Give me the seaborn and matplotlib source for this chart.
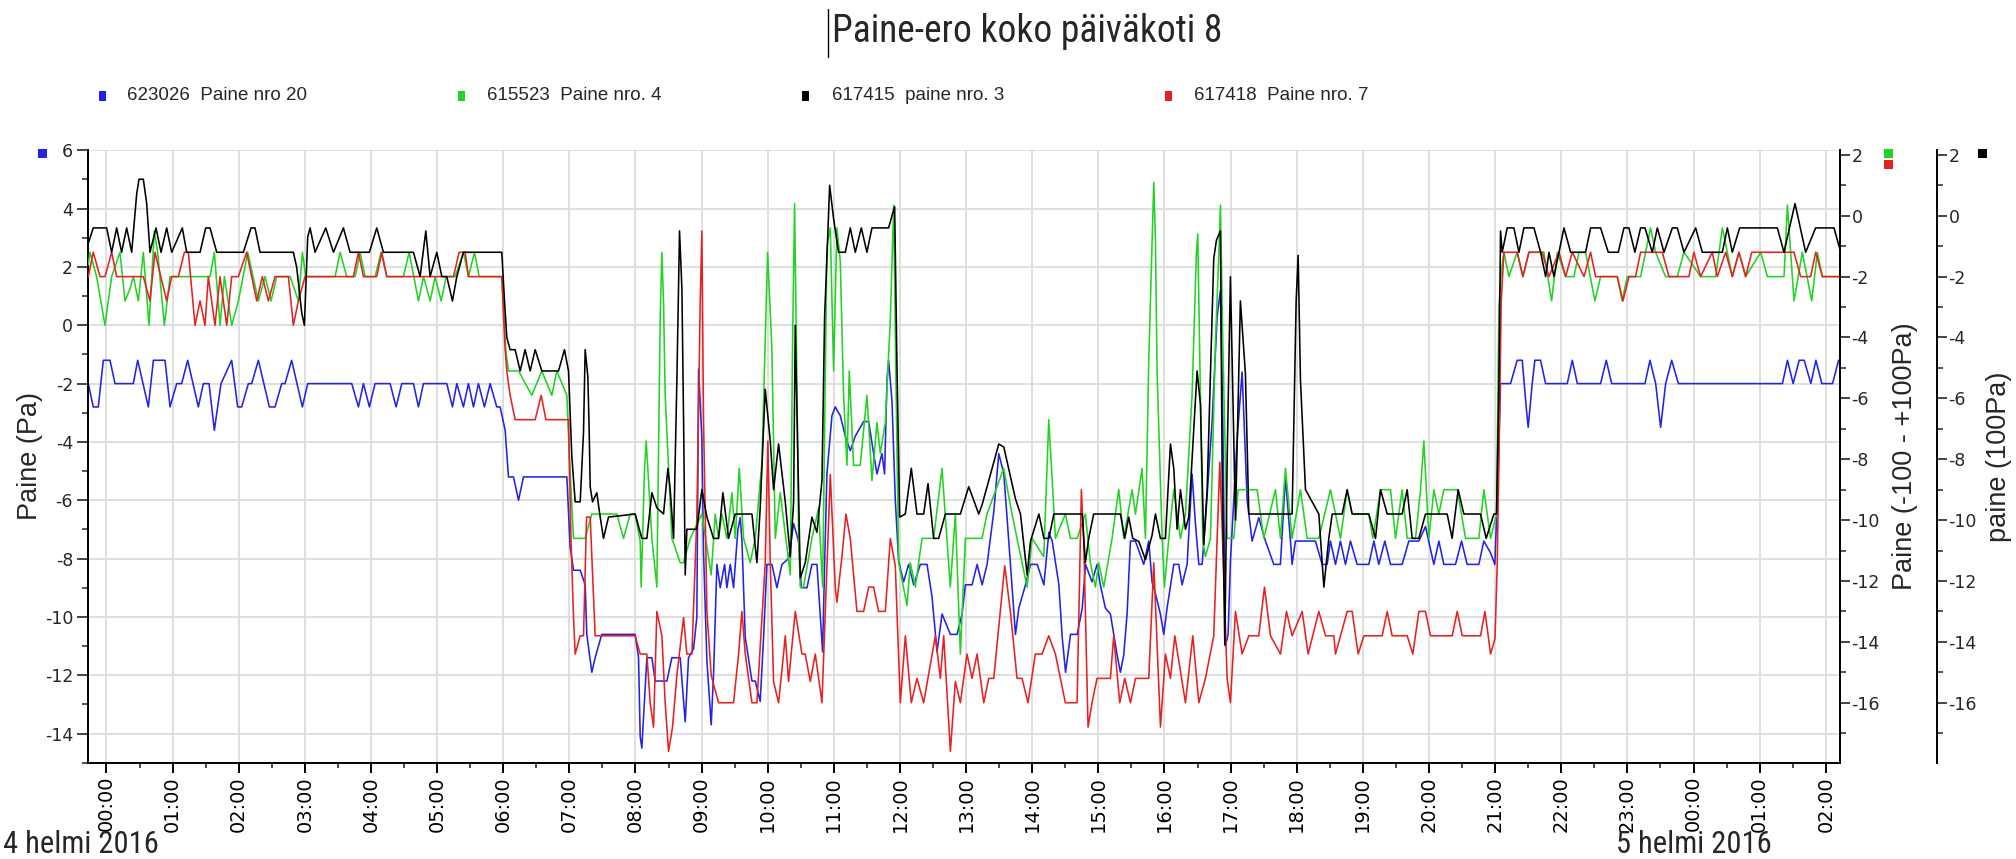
import numpy as np
import pandas as pd
import matplotlib
matplotlib.use("Agg")
import matplotlib.pyplot as plt
import matplotlib.dates as mdates
from matplotlib.ticker import MultipleLocator
from matplotlib.patches import Rectangle
from matplotlib.lines import Line2D
from matplotlib import font_manager as fm
import seaborn as sns

sns.set_style("white")
plt.rcParams["font.family"] = ["DejaVu Sans"]
plt.rcParams["axes.unicode_minus"] = False

_names = {f.name for f in fm.fontManager.ttflist}
NARROW = None
for cand in ["Liberation Sans Narrow", "Roboto Condensed", "Open Sans Condensed"]:
    if cand in _names:
        NARROW = dict(family=cand)
        NARROW_SCALE = 1.0
        break
if NARROW is None:
    NARROW = dict(family="DejaVu Sans", fontstretch="condensed")
    NARROW_SCALE = 0.86
SANS = dict(family="Liberation Sans" if "Liberation Sans" in _names else "DejaVu Sans")

# ---------------- data (hours after 4 Feb 2016 00:00) ----------------
title = "Paine-ero koko päiväkoti 8"
series_names = ["623026  Paine nro 20", "615523  Paine nro. 4",
                "617415  paine nro. 3", "617418  Paine nro. 7"]
date_labels = ["4 helmi 2016", "5 helmi 2016"]

# 623026 Paine nro 20 (left axis, Pa)
blue_h = [-0.275, -0.2, -0.124, -0.048, 0.053, 0.129, 0.406, 0.472, 0.633, 0.709, 0.885, 0.961, 1.062, 1.137, 1.228, 1.389, 1.465, 1.551, 1.631, 1.732, 1.893, 1.984, 2.045, 2.146, 2.196, 2.297, 2.463, 2.549, 2.65, 2.7, 2.8, 2.962, 3.043, 3.53,
          3.709, 3.81, 3.886, 3.976, 4.062, 4.289, 4.38, 4.466, 4.642, 4.718, 4.793, 5.146, 5.232, 5.298, 5.398, 5.474, 5.55, 5.625, 5.716, 5.802, 5.902, 5.953, 6.029, 6.079, 6.155, 6.231, 6.306, 6.962, 7.012, 7.063, 7.164,
          7.239, 7.264, 7.34, 7.39, 7.49, 7.995, 8.046, 8.071, 8.096, 8.172, 8.248, 8.298, 8.475, 8.55, 8.676, 8.752, 8.802, 8.878, 8.928, 8.954, 9.004, 9.029, 9.08, 9.145, 9.18, 9.231, 9.282, 9.347, 9.382, 9.433, 9.483, 9.549, 9.584, 9.61, 9.66, 9.761, 9.811, 9.886, 9.937, 9.987, 10.063, 10.139, 10.214, 10.315, 10.391, 10.466, 10.507, 10.593, 10.668, 10.744, 10.83, 10.86, 10.895, 10.971,
          11.021, 11.097, 11.173, 11.248, 11.324, 11.45, 11.526, 11.601, 11.652, 11.727, 11.767, 11.803, 11.828, 11.879, 11.929, 11.98, 12.055, 12.131, 12.207, 12.308, 12.409, 12.484, 12.56, 12.636, 12.762, 12.863, 12.939, 12.989, 13.09, 13.166, 13.242, 13.317, 13.418, 13.494, 13.57, 13.645, 13.746, 13.797, 13.898, 13.974, 14.075, 14.176, 14.251, 14.302, 14.403, 14.453, 14.504, 14.579, 14.68, 14.756, 14.806,
          14.904, 14.98, 15.03, 15.106, 15.182, 15.232, 15.283, 15.333, 15.384, 15.434, 15.485, 15.56, 15.686, 15.762, 15.812, 15.863, 15.938, 15.989, 16.039, 16.14, 16.216, 16.266, 16.342, 16.417, 16.468, 16.519, 16.569, 16.619, 16.72, 16.796, 16.846, 16.882, 16.922, 16.962, 16.997, 17.098, 17.174, 17.25, 17.325, 17.426, 17.527, 17.653, 17.753, 17.829, 17.905, 17.93, 17.98, 18.283, 18.384, 18.46, 18.51,
          18.586, 18.661, 18.737, 18.812, 18.913, 19.09, 19.166, 19.241, 19.332, 19.418, 19.594, 19.695, 19.846, 19.947, 20.073, 20.149, 20.224, 20.401, 20.492, 20.577, 20.754, 20.829, 20.93, 20.996, 21.046, 21.081, 21.233, 21.334, 21.41, 21.47, 21.5, 21.561, 21.601, 21.687, 21.763, 22.091, 22.167, 22.243,
          22.368, 22.595, 22.681, 22.762, 23.266, 23.342, 23.428, 23.503, 23.579, 23.67, 23.771, 25.345, 25.421, 25.507, 25.598, 25.674, 25.775, 25.851, 25.941, 26.103, 26.194, 26.23]
blue_pa = [-2.0, -2.8, -2.8, -1.2, -1.2, -2.0, -2.0, -1.2, -2.8, -1.2, -1.2, -2.8, -2.0, -2.0, -1.2, -2.8, -2.0, -2.0, -3.6, -2.0, -1.2, -2.8, -2.8, -2.0, -2.0, -1.2, -2.8, -2.8, -2.0, -2.0, -1.2, -2.8, -2.0, -2.0,
           -2.0, -2.8, -2.0, -2.8, -2.0, -2.0, -2.8, -2.0, -2.0, -2.8, -2.0, -2.0, -2.8, -2.0, -2.8, -2.0, -2.8, -2.0, -2.8, -2.0, -2.8, -2.8, -3.6, -5.2, -5.2, -6.0, -5.2, -5.2, -7.6, -8.4, -8.4,
           -8.9, -10.6, -11.9, -11.4, -10.6, -10.6, -11.4, -14.1, -14.5, -11.4, -11.4, -12.2, -12.2, -11.4, -11.4, -13.6, -11.4, -11.1, -10.0, -1.5, -3.9, -7.8, -11.5, -13.7, -12.0, -8.2, -9.0, -8.2, -9.0, -8.2, -9.0, -7.0, -6.6, -7.4, -10.7, -12.2, -12.2, -12.9, -10.7, -8.2, -8.2, -9.0, -8.2, -8.0, -6.8, -7.4, -9.0, -9.0, -8.2, -8.2, -11.2, -8.2, -5.1, -3.1,
           -2.8, -3.1, -3.8, -4.3, -3.8, -3.3, -3.3, -4.4, -5.1, -4.4, -5.1, -1.9, -1.2, -2.6, -6.0, -8.1, -8.8, -8.2, -8.9, -8.2, -8.2, -9.3, -11.2, -9.9, -10.6, -10.6, -9.9, -8.9, -8.9, -8.2, -8.9, -8.2, -6.4, -4.4, -5.1, -7.4, -10.6, -9.7, -8.9, -8.2, -8.2, -8.9, -7.1, -7.4, -8.9, -10.7, -11.9, -10.6, -10.6, -9.7, -8.2,
           -8.8, -8.2, -8.9, -9.7, -9.9, -10.6, -11.3, -11.9, -11.3, -9.9, -7.4, -7.4, -8.2, -7.4, -8.8, -9.2, -9.9, -10.6, -9.7, -8.2, -8.2, -8.9, -8.2, -5.1, -6.8, -8.2, -8.2, -6.7, -3.3, 0.3, 1.2, -3.3, -11.0, -10.6, -8.1, -3.9, -1.6, -6.0, -7.4, -6.6, -7.4, -8.2, -8.2, -5.2, -7.4, -8.2, -7.4, -7.4, -8.2, -8.2, -7.4,
           -8.2, -7.4, -8.2, -7.4, -8.2, -8.2, -7.4, -8.2, -7.4, -8.2, -8.2, -7.4, -7.4, -6.9, -8.2, -7.4, -8.2, -8.2, -7.4, -8.2, -8.2, -7.4, -7.8, -8.2, -5.1, -2.0, -2.0, -1.2, -1.2, -2.8, -3.5, -2.0, -1.2, -1.2, -2.0, -2.0, -1.2, -2.0,
           -2.0, -2.0, -1.2, -2.0, -2.0, -1.2, -2.0, -3.5, -2.0, -1.2, -2.0, -2.0, -1.2, -2.0, -1.2, -1.2, -2.0, -1.2, -2.0, -2.0, -1.2, -1.2]

# 615523 Paine nro. 4 (right axis, -100...+100 Pa)
green_h = [-0.275, -0.25, -0.149, -0.023, 0.078, 0.204, 0.28, 0.356, 0.406, 0.482, 0.557, 0.643, 0.724, 0.774, 0.875, 0.961, 1.566, 1.631, 1.717, 1.783, 1.894, 1.995, 2.136, 2.297, 2.398, 2.489, 2.575, 2.777, 2.903, 2.963, 3.013, 3.457,
           3.533, 3.633, 3.76, 3.835, 3.911, 4.062, 4.153, 4.239, 4.491, 4.577, 4.718, 4.794, 4.895, 4.97, 5.061, 5.137, 5.273, 5.399, 5.474, 5.565, 5.636, 5.979, 6.039, 6.079, 6.231, 6.432, 6.583, 6.735, 6.81, 6.962, 7.002, 7.063, 7.239,
           7.34, 7.718, 7.819, 7.92, 7.995, 8.071, 8.086, 8.137, 8.162, 8.248, 8.323, 8.374, 8.399, 8.424, 8.449, 8.55, 8.676, 8.727, 8.828, 9.004, 9.145, 9.206, 9.256, 9.307, 9.382, 9.458, 9.509, 9.569, 9.635, 9.736, 9.811, 9.912, 9.998, 10.063, 10.114, 10.189, 10.341, 10.376, 10.406, 10.442, 10.467, 10.492, 10.542, 10.668, 10.769, 10.83, 10.895, 10.946, 10.996,
           11.046, 11.097, 11.147, 11.198, 11.233, 11.298, 11.399, 11.5, 11.576, 11.652, 11.702, 11.778, 11.854, 11.904, 11.939, 11.98, 12.106, 12.156, 12.232, 12.333, 12.509, 12.635, 12.761, 12.837, 12.913, 12.989, 13.24, 13.316, 13.568, 13.694, 13.922, 13.998, 14.174, 14.25, 14.351, 14.502, 14.578, 14.679,
           14.803, 14.879, 14.955, 15.005, 15.081, 15.207, 15.308, 15.384, 15.51, 15.561, 15.661, 15.712, 15.762, 15.813, 15.838, 15.863, 15.888, 15.964, 15.999, 16.065, 16.14, 16.241, 16.317, 16.417, 16.483, 16.503, 16.543, 16.579, 16.619, 16.695, 16.771, 16.821, 16.846, 16.881, 16.947, 17.048, 17.114, 17.401, 17.502, 17.678, 17.753, 17.829, 17.93, 18.056, 18.157, 18.334, 18.51,
           18.586, 18.662, 18.763, 18.838, 19.09, 19.15, 19.267, 19.418, 19.494, 19.594, 19.67, 19.796, 19.872, 19.922, 19.998, 20.074, 20.149, 20.225, 20.427, 20.553, 20.754, 20.83, 20.931, 21.022, 21.057, 21.092, 21.133, 21.208, 21.334, 21.42, 21.511, 21.738, 21.854, 21.94, 22.066, 22.192, 22.268,
           22.368, 22.509, 22.595, 22.847, 22.922, 22.998, 23.2, 23.275, 23.351, 23.427, 23.578, 23.755, 23.856, 24.108, 24.335, 24.436, 24.512, 24.587, 24.688, 24.789, 25.016, 25.117, 25.369, 25.42, 25.52, 25.646, 25.788, 25.873, 25.949, 26.226]
green_pa = [-1.6, -1.2, -2.0, -3.6, -2.0, -1.2, -2.8, -2.4, -2.0, -2.8, -1.2, -3.6, -0.5, -1.2, -3.6, -2.0, -2.0, -1.2, -3.6, -2.0, -3.6, -2.8, -1.2, -2.8, -2.0, -2.8, -2.0, -2.0, -2.8, -1.2, -2.0, -2.0,
            -1.2, -2.0, -2.0, -1.2, -2.0, -2.0, -1.2, -2.0, -2.0, -1.2, -2.8, -2.0, -2.8, -2.0, -2.8, -2.0, -2.0, -1.2, -2.0, -1.2, -2.0, -2.0, -4.4, -5.1, -5.1, -5.9, -5.1, -5.9, -5.1, -5.9, -8.0, -10.6, -10.6,
            -9.8, -9.8, -10.6, -9.8, -9.8, -10.7, -12.2, -8.3, -7.4, -10.6, -12.2, -3.3, -1.2, -2.8, -5.9, -10.6, -11.4, -11.4, -10.6, -9.8, -11.8, -9.8, -10.6, -9.8, -10.6, -9.1, -10.6, -8.3, -10.6, -11.4, -10.6, -8.1, -1.2, -4.4, -10.6, -9.1, -11.8, -4.1, 0.4, -5.7, -10.6, -12.2, -12.2, -10.6, -9.6, -12.2, -1.0, -0.4, -5.1,
            -0.4, -1.5, -5.9, -8.2, -5.1, -8.2, -8.2, -5.9, -8.7, -6.8, -7.8, -6.8, -3.4, 0.35, -5.4, -11.4, -12.8, -11.4, -12.2, -10.6, -10.6, -8.3, -12.2, -9.8, -14.4, -10.6, -10.6, -9.8, -8.3, -9.8, -12.2, -10.6, -11.2, -6.7, -10.6, -9.8, -10.6, -10.6,
            -9.8, -11.4, -12.2, -11.4, -12.2, -10.6, -9.0, -10.6, -9.0, -9.8, -8.3, -10.6, -4.75, -0.8, 1.1, -0.8, -5.1, -10.6, -12.2, -10.6, -9.0, -10.6, -9.8, -5.9, -1.2, -0.6, -5.9, -10.7, -11.2, -10.6, -4.1, -1.3, 0.35, -4.1, -10.6, -10.6, -9.0, -9.0, -10.6, -9.0, -10.6, -8.3, -10.6, -9.0, -10.6, -10.6, -9.0,
            -9.8, -10.6, -9.0, -9.8, -9.8, -10.6, -9.0, -9.0, -10.6, -9.0, -10.6, -10.6, -9.0, -7.4, -10.6, -9.0, -9.8, -9.0, -9.0, -10.6, -10.6, -9.0, -10.6, -9.8, -3.0, -1.85, -1.2, -2.0, -1.2, -2.0, -1.2, -1.2, -2.8, -1.2, -2.0, -2.0, -1.2,
            -1.2, -2.8, -2.0, -2.0, -2.8, -2.0, -2.0, -1.2, -0.4, -1.2, -2.0, -2.0, -1.2, -2.0, -2.0, -0.4, -1.2, -2.0, -1.2, -2.0, -1.2, -2.0, -2.0, 0.35, -2.8, -1.2, -2.8, -1.2, -2.0, -2.0]

# 617415 paine nro. 3 (second right axis, 100 Pa)
black_h = [-0.275, -0.2, 0.003, 0.078, 0.154, 0.229, 0.305, 0.381, 0.456, 0.492, 0.557, 0.608, 0.658, 0.749, 0.825, 0.91, 0.986, 1.147, 1.213, 1.415, 1.5, 1.566, 1.667, 2.07, 2.186, 2.246, 2.322, 2.826, 2.877, 2.953, 2.993, 3.043, 3.079, 3.154, 3.316, 3.432,
           3.583, 3.684, 3.976, 4.087, 4.188, 4.642, 4.743, 4.829, 4.894, 4.995, 5.071, 5.146, 5.232, 5.298, 5.398, 5.978, 6.019, 6.054, 6.104, 6.18, 6.256, 6.331, 6.407, 6.483, 6.584, 6.836, 6.926, 6.987, 7.037, 7.088, 7.164, 7.214,
           7.239, 7.28, 7.3, 7.315, 7.35, 7.415, 7.466, 7.516, 7.592, 7.995, 8.096, 8.172, 8.248, 8.324, 8.424, 8.49, 8.525, 8.576, 8.626, 8.666, 8.702, 8.727, 8.752, 8.777, 8.928, 9.004, 9.08, 9.18, 9.256, 9.322, 9.408, 9.509, 9.761, 9.836, 9.886, 9.962, 10.038, 10.088, 10.164, 10.265, 10.341, 10.391, 10.416, 10.492, 10.567, 10.668, 10.744, 10.82, 10.86, 10.895, 10.936, 10.996,
           11.071, 11.173, 11.248, 11.324, 11.415, 11.5, 11.576, 11.828, 11.879, 11.919, 11.954, 11.995, 12.08, 12.171, 12.257, 12.358, 12.424, 12.509, 12.585, 12.686, 12.913, 13.04, 13.191, 13.241, 13.494, 13.57, 13.746, 13.822, 13.923, 13.973, 14.1, 14.176, 14.251, 14.327, 14.756,
           14.803, 14.854, 14.929, 15.333, 15.399, 15.459, 15.52, 15.611, 15.712, 15.812, 15.863, 15.938, 16.014, 16.09, 16.14, 16.191, 16.241, 16.317, 16.367, 16.493, 16.544, 16.594, 16.645, 16.745, 16.786, 16.846, 16.871, 16.912, 16.947, 16.997, 17.073, 17.148, 17.224, 17.275, 17.93, 17.991, 18.021, 18.056, 18.132, 18.334, 18.41, 18.485, 18.536,
           18.586, 18.687, 18.762, 18.838, 19.09, 19.191, 19.267, 19.368, 19.594, 19.67, 19.746, 19.846, 19.947, 20.275, 20.35, 20.441, 20.527, 20.779, 20.865, 20.981, 21.021, 21.057, 21.082, 21.107, 21.183, 21.284, 21.36, 21.435, 21.587, 21.688, 21.764, 21.814, 21.89, 21.966, 22.041, 22.142,
           22.368, 22.444, 22.595, 22.711, 22.862, 22.948, 23.024, 23.114, 23.2, 23.266, 23.377, 23.453, 23.554, 23.68, 23.755, 23.856, 24.033, 24.133, 24.436, 24.512, 24.587, 24.698, 25.268, 25.368, 25.535, 25.696, 25.847, 26.125, 26.226]
black_pa = [-0.9, -0.4, -0.4, -1.2, -0.4, -1.2, -0.4, -1.2, 0.7, 1.2, 1.2, 0.4, -1.2, -0.4, -1.2, -0.4, -1.2, -0.4, -1.2, -1.2, -0.4, -0.4, -1.2, -1.2, -0.4, -0.4, -1.2, -1.2, -1.7, -3.2, -3.6, -0.7, -0.4, -1.2, -0.4, -1.2,
            -0.4, -1.2, -1.2, -0.4, -1.2, -1.2, -2.0, -0.5, -2.0, -1.2, -2.0, -2.0, -2.8, -2.0, -1.2, -1.2, -2.8, -4.0, -4.4, -4.4, -5.1, -4.4, -5.1, -4.4, -5.1, -5.1, -4.4, -5.1, -7.9, -9.4, -9.4, -7.1,
            -4.4, -5.3, -7.1, -8.9, -9.4, -9.1, -9.9, -10.6, -9.9, -9.8, -10.6, -10.6, -9.1, -9.6, -9.8, -8.3, -9.0, -10.6, -5.4, -0.5, -2.4, -6.7, -11.8, -10.3, -10.3, -9.0, -9.9, -10.6, -10.6, -9.1, -10.6, -9.8, -9.8, -11.4, -9.6, -5.7, -7.4, -9.0, -7.5, -9.4, -11.2, -9.4, -3.6, -11.9, -11.4, -9.9, -10.4, -8.7, -3.3, -1.4, 1.0, -0.1,
            -1.2, -1.2, -0.4, -1.2, -0.4, -1.2, -0.4, -0.4, 0.0, 0.3, -4.9, -9.9, -9.8, -8.3, -9.8, -9.8, -8.8, -10.6, -10.6, -9.8, -9.8, -8.9, -9.8, -9.5, -7.5, -7.6, -9.3, -9.8, -11.8, -10.7, -9.8, -10.6, -10.6, -9.8, -9.8,
            -11.4, -10.6, -9.8, -9.8, -10.6, -9.9, -10.6, -10.7, -11.3, -10.5, -9.8, -10.6, -10.6, -7.5, -8.3, -10.3, -9.0, -10.3, -9.9, -5.1, -6.2, -10.8, -9.0, -1.4, -0.8, -0.5, -8.1, -14.1, -8.1, -2.0, -10.0, -2.8, -5.2, -9.8, -9.8, -2.8, -1.3, -5.4, -9.0, -9.8, -12.2, -10.6, -9.8,
            -9.8, -9.8, -9.0, -9.8, -9.8, -10.6, -9.0, -9.8, -9.8, -9.0, -10.6, -10.6, -9.8, -9.8, -10.6, -9.0, -9.8, -9.8, -10.6, -9.8, -9.8, -5.5, -0.5, -1.2, -0.4, -0.4, -1.2, -0.4, -0.4, -1.2, -2.0, -1.2, -2.0, -1.2, -0.4, -1.2,
            -1.2, -0.4, -0.4, -1.2, -1.2, -0.4, -0.4, -1.2, -0.4, -0.4, -1.2, -0.4, -1.2, -0.4, -0.4, -1.2, -0.4, -1.2, -1.2, -0.4, -1.2, -0.4, -0.4, -1.2, 0.4, -1.2, -0.4, -0.4, -1.2]

# 617418 Paine nro. 7 (right axis, -100...+100 Pa)
red_h = [-0.275, -0.2, -0.098, -0.023, 0.078, 0.154, 0.557, 0.658, 0.734, 0.91, 0.986, 1.087, 1.178, 1.238, 1.339, 1.415, 1.49, 1.54, 1.641, 1.717, 1.818, 1.894, 1.994, 2.12, 2.272, 2.357, 2.448, 2.549, 2.751, 2.826, 2.902, 3.003,
         3.734, 3.81, 3.886, 4.087, 4.163, 4.239, 5.247, 5.333, 5.424, 5.474, 5.978, 6.029, 6.054, 6.104, 6.18, 6.483, 6.574, 6.645, 6.987, 7.027, 7.063, 7.088, 7.164, 7.214, 7.26, 7.315, 7.34, 7.39,
         7.995, 8.071, 8.172, 8.222, 8.273, 8.323, 8.399, 8.449, 8.5, 8.56, 8.626, 8.727, 8.777, 8.853, 8.928, 8.979, 9.004, 9.029, 9.08, 9.145, 9.256, 9.483, 9.559, 9.609, 9.66, 9.761, 9.836, 9.962, 10.002, 10.038, 10.088, 10.164, 10.239, 10.265, 10.315, 10.416, 10.517, 10.567, 10.643, 10.719, 10.82, 10.946,
         11.021, 11.046, 11.122, 11.183, 11.248, 11.349, 11.45, 11.526, 11.601, 11.677, 11.778, 11.854, 11.929, 12.005, 12.081, 12.171, 12.257, 12.358, 12.535, 12.61, 12.661, 12.762, 12.837, 12.913, 13.014, 13.09, 13.166, 13.267, 13.342, 13.418, 13.584, 13.669, 13.77, 13.846, 13.936, 14.047, 14.148, 14.249, 14.35, 14.501, 14.678, 14.743, 14.779,
         14.844, 14.904, 14.98, 15.182, 15.232, 15.323, 15.399, 15.485, 15.561, 15.762, 15.838, 15.939, 16.014, 16.09, 16.156, 16.317, 16.428, 16.519, 16.619, 16.745, 16.836, 16.871, 16.947, 16.997, 17.073, 17.174, 17.275, 17.426, 17.512, 17.603, 17.754, 17.845, 17.93, 18.082, 18.172, 18.334, 18.435, 18.561,
         18.586, 18.662, 18.763, 18.838, 18.929, 19.015, 19.292, 19.368, 19.443, 19.67, 19.756, 19.846, 19.947, 20.023, 20.351, 20.427, 20.503, 20.78, 20.846, 20.932, 20.998, 21.031, 21.057, 21.092, 21.133, 21.335, 21.42, 21.511, 21.713, 21.814, 21.966, 22.066, 22.167, 22.344,
         22.444, 22.519, 22.847, 22.933, 23.024, 23.124, 23.2, 23.528, 23.629, 23.931, 24.006, 24.107, 24.284, 24.36, 24.486, 24.587, 24.688, 24.789, 24.88, 25.52, 25.62, 25.772, 25.848, 25.949, 26.226]
red_pa = [-2.0, -1.2, -2.0, -2.0, -1.2, -2.0, -2.0, -2.8, -1.2, -2.8, -2.0, -2.0, -1.2, -1.2, -3.6, -2.8, -3.6, -2.0, -3.6, -2.0, -3.6, -2.0, -2.0, -1.2, -2.8, -2.0, -2.8, -2.0, -2.0, -3.6, -2.8, -2.0,
          -2.0, -1.2, -2.0, -2.0, -1.2, -2.0, -2.0, -1.2, -1.2, -2.0, -2.0, -4.4, -5.1, -5.9, -6.7, -6.7, -5.9, -6.7, -6.7, -10.8, -13.2, -14.4, -13.8, -13.8, -9.9, -9.9, -11.2, -13.8,
          -13.8, -14.4, -14.4, -16.0, -16.8, -13.0, -13.8, -16.0, -17.6, -16.8, -15.1, -13.2, -14.4, -14.4, -9.9, -2.8, -0.5, -6.7, -13.0, -15.1, -16.0, -16.0, -14.4, -13.0, -14.4, -16.0, -16.0, -11.4, -7.4, -11.4, -15.3, -16.0, -14.4, -13.8, -15.3, -13.0, -14.4, -14.4, -15.3, -14.4, -16.0, -8.5,
          -12.2, -12.7, -11.2, -9.8, -10.6, -13.0, -13.0, -12.2, -12.2, -13.0, -13.0, -10.6, -11.5, -16.0, -13.8, -16.0, -15.2, -16.0, -13.8, -15.2, -13.8, -17.6, -15.3, -16.0, -14.4, -15.2, -14.4, -16.0, -15.2, -15.2, -11.5, -13.0, -15.2, -15.2, -16.0, -14.4, -14.4, -13.8, -14.4, -16.0, -16.0, -9.0, -10.7,
          -16.8, -16.0, -15.2, -15.2, -13.8, -16.0, -15.2, -16.0, -15.2, -15.2, -11.4, -16.8, -14.4, -15.2, -13.8, -16.0, -13.8, -16.0, -15.2, -13.8, -8.1, -10.2, -15.2, -16.0, -13.0, -14.4, -13.8, -13.8, -12.2, -13.8, -14.4, -13.0, -13.8, -13.0, -14.4, -13.0, -13.8, -13.8,
          -14.4, -13.8, -13.0, -13.0, -14.4, -13.8, -13.8, -13.0, -13.8, -13.8, -14.4, -13.0, -13.0, -13.8, -13.8, -13.0, -13.8, -13.8, -13.0, -14.4, -13.9, -11.5, -8.1, -2.8, -1.2, -1.2, -2.0, -1.2, -1.2, -2.0, -1.2, -2.0, -1.2, -2.0,
          -1.2, -2.0, -2.0, -2.8, -2.0, -2.0, -1.2, -1.2, -2.0, -2.0, -1.2, -2.0, -1.2, -2.0, -1.2, -2.0, -1.2, -2.0, -1.2, -1.2, -2.0, -2.0, -1.2, -2.0, -2.0]

colors = ["#2323e6", "#23d323", "#000000", "#e52222"]

# ---------------- figure ----------------
W, H = 2016, 859
fig = plt.figure(figsize=(W / 100, H / 100), dpi=100)
ax_l, ax_r, ax_t, ax_b = 88.3, 1840.3, 150.3, 762.7
ax = fig.add_axes([ax_l / W, 1 - ax_b / H, (ax_r - ax_l) / W, (ax_b - ax_t) / H])
ax2 = ax.twinx()
ax3 = ax.twinx()

start = pd.Timestamp("2016-02-04 00:00")
def to_time(hours):
    return start + pd.to_timedelta(np.asarray(hours), unit="h")

lw = 1.15
sns.lineplot(x=to_time(blue_h), y=blue_pa, ax=ax, color=colors[0], lw=lw,
             sort=False, estimator=None, legend=False)
sns.lineplot(x=to_time(green_h), y=green_pa, ax=ax2, color=colors[1], lw=lw,
             sort=False, estimator=None, legend=False)
sns.lineplot(x=to_time(red_h), y=red_pa, ax=ax2, color=colors[3], lw=lw,
             sort=False, estimator=None, legend=False)
sns.lineplot(x=to_time(black_h), y=black_pa, ax=ax3, color=colors[2], lw=lw,
             sort=False, estimator=None, legend=False)

ax.set_xlim(start + pd.Timedelta(hours=-0.275), start + pd.Timedelta(hours=26.22))
ax.set_ylim(-15, 6)
ax2.set_ylim(-17.97, 2.15)
ax3.set_ylim(-17.97, 2.15)

ax.xaxis.set_major_locator(mdates.HourLocator())
ax.xaxis.set_major_formatter(mdates.DateFormatter("%H:%M"))
ax.xaxis.set_minor_locator(mdates.MinuteLocator(byminute=[30]))
for a in (ax, ax2, ax3):
    a.yaxis.set_major_locator(MultipleLocator(2))
    a.yaxis.set_minor_locator(MultipleLocator(1))
    a.set_xlabel("")
    a.set_ylabel("")

ax.grid(True, which="major", color="#dcdcdc", lw=1.3)
ax.set_axisbelow(True)

for a in (ax, ax2, ax3):
    for s in a.spines.values():
        s.set_visible(False)
ax.spines["left"].set_visible(True)
ax.spines["bottom"].set_visible(True)
ax2.spines["right"].set_visible(True)
ax3.spines["right"].set_visible(True)
ax3.spines["right"].set_position(("outward", 97 * 0.72))
for s in (ax.spines["left"], ax.spines["bottom"], ax2.spines["right"], ax3.spines["right"]):
    s.set_color("black")
    s.set_linewidth(1.4)

ax.tick_params(axis="x", which="major", direction="out", length=7.5, width=1.4,
               labelsize=14, labelrotation=90, pad=2, colors="black", bottom=True)
ax.tick_params(axis="x", which="minor", direction="out", length=3.5, width=1.2, bottom=True)
ax.tick_params(axis="y", which="major", direction="out", length=8, width=1.2,
               labelsize=12.5, pad=3, left=True)
ax.tick_params(axis="y", which="minor", direction="out", length=4.5, width=1.1, left=True)
for a in (ax2, ax3):
    a.tick_params(axis="y", which="major", direction="out", length=7, width=1.2,
                  labelsize=12.5, pad=1, right=True)
    a.tick_params(axis="y", which="minor", direction="out", length=4, width=1.1, right=True)

# axis titles
ax.set_ylabel("Paine (Pa)", fontsize=19.5, **SANS)
ax.yaxis.set_label_coords(30 / W, 1 - 456.5 / H, transform=fig.transFigure)
ax2.set_ylabel("Paine (-100 - +100Pa)", fontsize=19.5, **SANS)
ax2.yaxis.set_label_coords(1905 / W, 1 - 456.5 / H, transform=fig.transFigure)
ax3.set_ylabel("paine (100Pa)", fontsize=19.5, **SANS)
ax3.yaxis.set_label_coords(1999 / W, 1 - 456.5 / H, transform=fig.transFigure)
for a in (ax, ax2, ax3):
    a.yaxis.label.set_rotation_mode("default")
    a.yaxis.label.set_ha("center")
    a.yaxis.label.set_va("center")

# title (with the text cursor seen in the source image)
fig.text(832 / W, 1 - 32 / H, title, ha="left", va="center",
         fontsize=27 * NARROW_SCALE, **NARROW)
fig.add_artist(Line2D([828 / W, 828 / W], [1 - 9 / H, 1 - 57 / H],
                      transform=fig.transFigure, color="black", lw=1.0))

# legend row
leg_marker_x = [99, 458, 802, 1165]
leg_text_x = [127, 487, 832, 1194]
for mx, tx, name, c in zip(leg_marker_x, leg_text_x, series_names, colors):
    fig.add_artist(Rectangle((mx / W, 1 - 101 / H), 7 / W, 10 / H,
                             transform=fig.transFigure, color=c, lw=0))
    fig.text(tx / W, 1 - 96 / H, name, ha="left", va="center", fontsize=13.5, **SANS)

# small colour keys at the axes
def key(x, y, c):
    fig.add_artist(Rectangle((x / W, 1 - (y + 9) / H), 9 / W, 9 / H,
                             transform=fig.transFigure, color=c, lw=0))
key(38, 149, colors[0])
key(1884, 149, colors[1])
key(1884, 160, colors[3])
key(1978, 149, colors[2])

# date labels
dsize = 22 * NARROW_SCALE if NARROW_SCALE < 1 else 22
fig.text(3 / W, 1 - 853 / H, date_labels[0], ha="left", va="baseline", fontsize=dsize, **NARROW)
fig.text(1694 / W, 1 - 853 / H, date_labels[1], ha="center", va="baseline", fontsize=dsize, **NARROW)

fig.savefig("out.png", dpi=100)
